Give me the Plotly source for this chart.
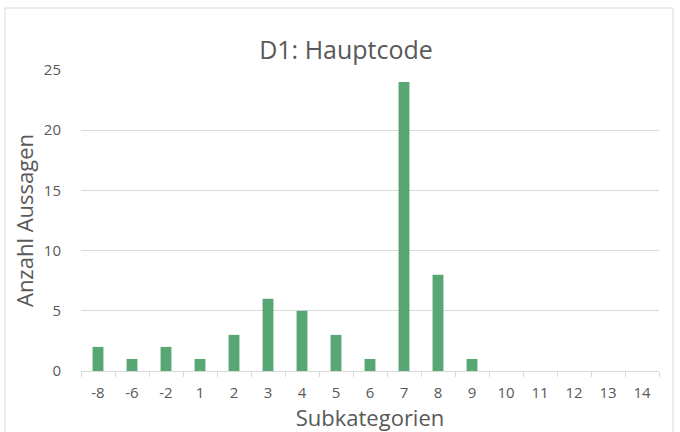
import plotly.graph_objects as go

categories = ["-8", "-6", "-2", "1", "2", "3", "4", "5", "6", "7", "8", "9", "10", "11", "12", "13", "14"]
values = [2, 1, 2, 1, 3, 6, 5, 3, 1, 24, 8, 1, 0, 0, 0, 0, 0]
y_ticks = [0, 5, 10, 15, 20, 25]

font_family = "Open Sans, Noto Sans, sans-serif"
text_color = "#595959"

fig = go.Figure(go.Bar(x=categories, y=values, marker=dict(color="#57A673", line=dict(width=0))))

fig.update_layout(
    width=680, height=432,
    margin=dict(l=81, r=21, t=70, b=61, autoexpand=False),
    paper_bgcolor="white", plot_bgcolor="white",
    bargap=0.68,
    showlegend=False,
    font=dict(family=font_family, color=text_color),
    title=dict(text="D1: Hauptcode", x=(346 - 81) / 578, xanchor="center", xref="paper",
               y=1 - 50 / 432, yref="container", yanchor="middle",
               font=dict(size=25, color=text_color, family=font_family)),
)

fig.update_xaxes(
    type="category",
    ticks="outside", tickson="boundaries", ticklen=5, tickcolor="#d9d9d9",
    showline=True, linecolor="#d9d9d9", linewidth=1,
    showgrid=False,
    ticklabelstandoff=8,
    tickfont=dict(size=15, color=text_color),
    title=dict(text="Subkategorien", font=dict(size=22, color=text_color), standoff=0),
)
fig.update_yaxes(
    range=[0, 25], tickvals=y_ticks,
    showgrid=True, gridcolor="#d9d9d9", gridwidth=1,
    zeroline=False, showline=False, ticks="",
    ticklabelstandoff=19,
    tickfont=dict(size=15, color=text_color),
    title=dict(text="Anzahl Aussagen", font=dict(size=22, color=text_color), standoff=4),
)

fig.add_shape(type="rect", xref="paper", yref="paper",
              x0=(5 - 81) / 578, x1=(673 - 81) / 578, y0=(371 - 440) / 301, y1=(371 - 8) / 301,
              line=dict(color="#d9d9d9", width=1), fillcolor="rgba(0,0,0,0)", layer="below")

fig.write_html("out.html", config={"displayModeBar": False},
               post_script="document.body.style.margin='0';")
